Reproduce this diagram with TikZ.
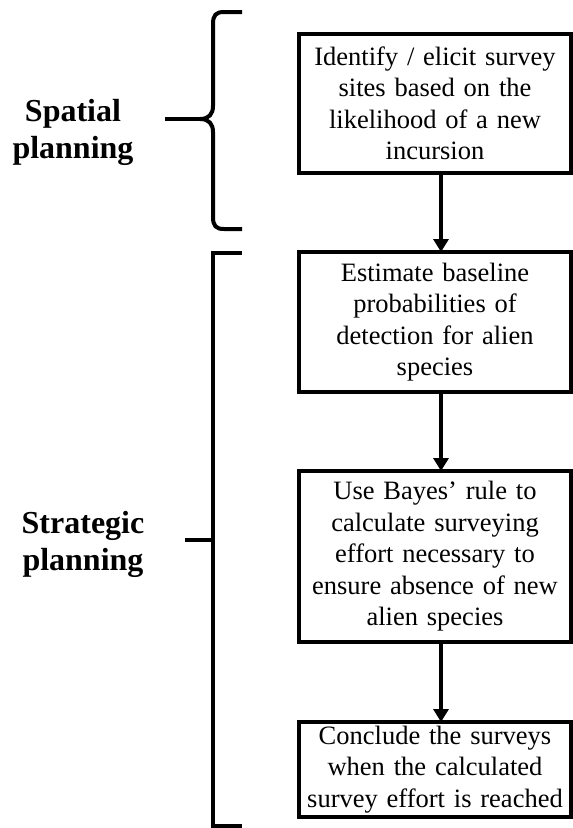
\documentclass[tikz,border=0pt]{standalone}
\usepackage{fontspec}
\setmainfont{Liberation Serif}
\usetikzlibrary{arrows.meta}
\tikzset{
  stepbox/.style={draw=black, line width=4pt, rectangle, inner sep=0pt, outer sep=0pt,
    minimum width=272pt, text width=266pt, align=center,
    font=\fontsize{26.5}{31.5}\selectfont},
  phase/.style={align=center, font=\fontsize{32}{37}\selectfont\bfseries, inner sep=0pt},
  brk/.style={line width=4pt, draw=black},
  flow/.style={line width=4pt, -{Triangle[width=15pt,length=13pt]}},
}
\begin{document}
\begin{tikzpicture}[x=1pt,y=-1pt]
\useasboundingbox (0,0) rectangle (573,828);
% boxes
\node[stepbox, minimum height=139pt] (b1) at (435,103.5)
  {Identify / elicit survey\\ sites based on the\\ likelihood of a new\\ incursion};
\node[stepbox, minimum height=140pt] (b2) at (435,322)
  {Estimate baseline\\ probabilities of\\ detection for alien\\ species};
\node[stepbox, minimum height=171pt] (b3) at (435,556.5)
  {Use Bayes’ rule to\\ calculate surveying\\ effort necessary to\\ ensure absence of new\\ alien species};
\node[stepbox, minimum height=95pt] (b4) at (435,769.5)
  {Conclude the surveys\\ when the calculated\\ survey effort is reached};
% arrows (slightly right of centre, as in the reference)
\draw[flow] ([xshift=6pt]b1.south) -- ([xshift=6pt]b2.north);
\draw[flow] ([xshift=6pt]b2.south) -- ([xshift=6pt]b3.north);
\draw[flow] ([xshift=6pt]b3.south) -- ([xshift=6pt]b4.north);
% labels
\node[phase] (spatial) at (73,132) {Spatial\\ planning};
\node[phase] (strategic) at (83,544) {Strategic\\ planning};
% curly brace
\coordinate (brtip) at (165,119);
\draw[brk] (242,12) -- (224,12) .. controls (216,12) and (213,15) .. (213,24)
  -- (213,106) .. controls (213,114) and (209,119) .. (200,119)
  .. controls (209,119) and (213,124) .. (213,132)
  -- (213,217) .. controls (213,226) and (216,229) .. (224,229) -- (242,229);
\draw[brk] (brtip) -- (200,119);
% square bracket
\coordinate (sqtip) at (185,540);
\draw[brk] (242,253) -- (213,253) -- (213,826) -- (242,826);
\draw[brk] (sqtip) -- (213,540);
\end{tikzpicture}
\end{document}
